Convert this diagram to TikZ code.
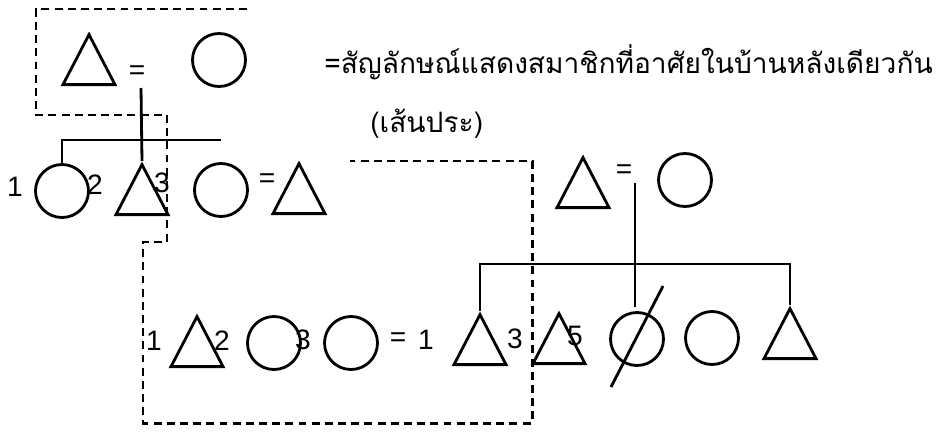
\documentclass[tikz,border=0pt]{standalone}
\usepackage{fontspec}
\setmainfont{Liberation Sans}
\newfontfamily\thaifont[Script=Thai]{Loma}
\usetikzlibrary{shapes.geometric,calc}

\begin{document}
\begin{tikzpicture}[x=0.02cm,y=-0.02cm,
  tri/.style={draw,isosceles triangle,isosceles triangle stretches,shape border rotate=90,minimum width=1.04cm,minimum height=1cm,inner sep=0pt,anchor=lower side,line width=1.6pt},
  circ/.style={draw,circle,minimum size=1.06cm,inner sep=0pt,line width=1.6pt},
  num/.style={font=\fontsize{16}{19}\selectfont,inner sep=0pt},
  thai/.style={font=\thaifont\fontsize{16}{19}\selectfont,inner sep=0pt,anchor=west},
  kin/.style={line width=1.6pt},
  house/.style={line width=1.7pt,dash pattern=on 4.5pt off 3pt}]
  \useasboundingbox (0,0) rectangle (945,439);
  % grandparents, left
  \node[tri]  (gpa)  at (89,86)   {};
  \node[num]  (eq1)  at (137,73)  {=};
  \node[circ] (gma)  at (219,60)  {};
  \node[thai] (key)  at (324,62)  {=สัญลักษณ์แสดงสมาชิกที่อาศัยในบ้านหลังเดียวกัน};
  \node[thai] (dash) at (370,124) {(เส้นประ)};
  % children, left
  \node[num]  (n1)   at (15,187)  {1};
  \node[circ] (ch1)  at (62,191)  {};
  \node[num]  (n2)   at (95,185)  {2};
  \node[tri]  (ch2)  at (142,216) {};
  \node[num]  (n3)   at (162,183) {3};
  \node[circ] (ch3)  at (221,190) {};
  \node[num]  (eq2)  at (267,181) {=};
  \node[tri]  (sp3)  at (299,215) {};
  % grandparents, right
  \node[tri]  (rgpa) at (583,209) {};
  \node[num]  (eq3)  at (624,172) {=};
  \node[circ] (rgma) at (685,180) {};
  % household
  \node[num]  (b1n)  at (154,341) {1};
  \node[tri]  (b1)   at (197,368) {};
  \node[num]  (b2n)  at (222,341) {2};
  \node[circ] (b2)   at (274,343) {};
  \node[num]  (b3n)  at (303,340) {3};
  \node[circ] (b3)   at (351,343) {};
  \node[num]  (eq4)  at (398,340) {=};
  \node[num]  (k1n)  at (426,340) {1};
  \node[tri]  (k1)   at (480,366) {};
  \node[num]  (k3n)  at (515,339) {3};
  \node[tri]  (k2)   at (559,365) {};
  \node[num]  (k5n)  at (575,336) {5};
  \node[circ] (k3)   at (637,339) {};
  \node[circ] (k4)   at (712,338) {};
  \node[tri]  (k5)   at (790,360) {};
  \coordinate (m1) at (141,88);
  \coordinate (s1) at (221,140);
  \coordinate (m2) at (635,183);
  \coordinate (m2e) at (635,307);
  \coordinate (s2) at (478,264);
  % descent lines
  \draw[kin] (m1) -- (ch2.apex);
  \draw[kin] (s1) -| (ch1.north);
  \draw[kin] (m2) -- (m2e);
  \draw[kin] (k1.apex) -- (k1.apex |- s2) -- (k5.apex |- s2) -- (k5.apex);
  \draw[kin] ([shift={(-26,48)}]k3.center) -- ([shift={(26,-53)}]k3.center);
  % same house
  \draw[house] (247,9) -- (36,9) -- (36,115) -- (167,115) -- (167,242) -- (143,242)
    -- (143,423) -- (532,423) -- (532,161) -- (350,161);
\end{tikzpicture}
\end{document}
